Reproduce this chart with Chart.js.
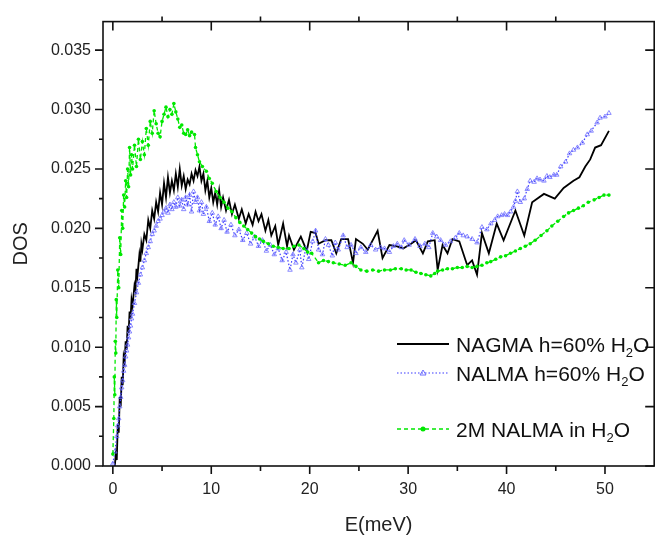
<!DOCTYPE html>
<html>
<head>
<meta charset="utf-8">
<script src="https://cdn.jsdelivr.net/npm/chart.js@4.4.1/dist/chart.umd.min.js"></script>
<style>
  html, body { margin: 0; padding: 0; background: #fff; }
  #contenedor { width: 659px; height: 535px; }
</style>
</head>
<body>
<div id="contenedor"><canvas id="grafico"></canvas></div>
<script>
// DATOS
const energiaNagma = [
  0.2, 0.3, 0.4, 0.5, 0.6, 0.7, 0.8, 0.9, 1.0, 1.1,
  1.2, 1.3, 1.4, 1.5, 1.6, 1.7, 1.8, 1.9, 2.0, 2.2,
  2.3, 2.4, 2.5, 2.7, 2.8, 2.9, 3.0, 3.2, 3.4, 3.6,
  3.8, 4.0, 4.2, 4.4, 4.6, 4.8, 5.0, 5.2, 5.4, 5.6,
  5.8, 6.0, 6.2, 6.4, 6.6, 6.8, 7.0, 7.2, 7.4, 7.6,
  7.8, 8.0, 8.2, 8.4, 8.6, 8.8, 9.0, 9.2, 9.4, 9.6,
  9.8, 10.0, 10.2, 10.4, 10.6, 10.8, 11.0, 11.2, 11.5, 11.8,
  12.1, 12.4, 12.8, 13.1, 13.5, 13.8, 14.2, 14.5, 14.8, 15.1,
  15.5, 15.8, 16.1, 16.5, 16.8, 17.3, 17.7, 17.9, 18.4, 19.1,
  19.7, 20.1, 20.6, 20.9, 21.6, 22.2, 22.7, 23.2, 23.9, 24.4,
  24.7, 25.4, 25.9, 26.9, 27.4, 28.1, 28.8, 29.5, 30.3, 30.8,
  31.5, 32.0, 32.7, 33.0, 33.5, 34.0, 34.5, 35.2, 36.0, 36.5,
  37.0, 37.5, 38.2, 39.0, 39.7, 40.9, 41.8, 42.6, 43.8, 44.9,
  45.8, 46.8, 47.4, 48.0, 48.5, 49.0, 49.6, 50.4
];
const dosNagma = [
  0.0000, 0.0010, 0.0005, 0.0035, 0.0028, 0.0058, 0.0050, 0.0075, 0.0068, 0.0092,
  0.0088, 0.0105, 0.0098, 0.0118, 0.0112, 0.0130, 0.0124, 0.0140, 0.0135, 0.0152,
  0.0148, 0.0166, 0.0160, 0.0178, 0.0172, 0.0187, 0.0182, 0.0195, 0.0190, 0.0207,
  0.0200, 0.0215, 0.0208, 0.0222, 0.0214, 0.0230, 0.0220, 0.0238, 0.0226, 0.0243,
  0.0230, 0.0240, 0.0232, 0.0246, 0.0235, 0.0250, 0.0236, 0.0244, 0.0233, 0.0241,
  0.0237, 0.0246, 0.0240, 0.0249, 0.0244, 0.0252, 0.0240, 0.0246, 0.0232, 0.0240,
  0.0226, 0.0234, 0.0222, 0.0230, 0.0220, 0.0232, 0.0218, 0.0226, 0.0215, 0.0224,
  0.0212, 0.0220, 0.0208, 0.0216, 0.0204, 0.0212, 0.0203, 0.0214, 0.0206, 0.0212,
  0.0198, 0.0207, 0.0194, 0.0202, 0.0186, 0.0204, 0.0185, 0.0194, 0.0182, 0.0193,
  0.0181, 0.0197, 0.0196, 0.0187, 0.0190, 0.0190, 0.0179, 0.0191, 0.0191, 0.0171,
  0.0191, 0.0187, 0.0182, 0.0198, 0.0175, 0.0186, 0.0185, 0.0183, 0.0187, 0.0190,
  0.0179, 0.0189, 0.0190, 0.0165, 0.0186, 0.0179, 0.0191, 0.0189, 0.0169, 0.0173,
  0.0161, 0.0196, 0.0179, 0.0204, 0.0190, 0.0215, 0.0194, 0.0222, 0.0229, 0.0225,
  0.0234, 0.0240, 0.0243, 0.0252, 0.0258, 0.0268, 0.0270, 0.0282
];

const energiaNalma = [
  0.0, 0.2, 0.4, 0.5, 0.6, 0.7, 0.8, 0.9, 1.0, 1.1,
  1.2, 1.3, 1.4, 1.5, 1.6, 1.7, 1.8, 1.9, 2.0, 2.2,
  2.4, 2.6, 2.8, 3.0, 3.2, 3.4, 3.6, 3.8, 4.0, 4.2,
  4.4, 4.6, 4.8, 5.0, 5.2, 5.4, 5.6, 5.8, 6.0, 6.2,
  6.4, 6.6, 6.8, 7.0, 7.2, 7.4, 7.6, 7.8, 8.0, 8.2,
  8.4, 8.6, 8.8, 9.0, 9.2, 9.5, 9.8, 10.1, 10.4, 10.7,
  11.0, 11.3, 11.6, 12.0, 12.4, 12.8, 13.2, 13.6, 14.0, 14.4,
  14.8, 15.2, 15.6, 16.0, 16.4, 16.8, 17.2, 17.6, 18.0, 18.3,
  18.6, 19.0, 19.2, 19.6, 19.9, 20.3, 20.6, 20.9, 21.3, 21.6,
  21.9, 22.3, 22.6, 22.9, 23.4, 23.8, 24.2, 24.7, 25.2, 25.7,
  26.2, 26.7, 27.2, 27.6, 28.1, 28.5, 28.9, 29.3, 29.6, 30.1,
  30.7, 31.2, 31.7, 32.1, 32.5, 32.9, 33.3, 33.8, 34.3, 34.8,
  35.2, 35.6, 36.0, 36.5, 37.0, 37.5, 38.0, 38.4, 38.8, 39.1,
  39.5, 39.8, 40.1, 40.4, 40.7, 40.9, 41.1, 41.4, 41.8, 42.1,
  42.4, 42.8, 43.1, 43.4, 43.8, 44.1, 44.4, 44.8, 45.1, 45.5,
  46.0, 46.4, 46.8, 47.2, 47.7, 48.2, 48.6, 49.2, 49.5, 50.0, 50.4
];
const dosNalma = [
  0.0002, 0.0012, 0.0025, 0.0034, 0.0040, 0.0050, 0.0058, 0.0066, 0.0072, 0.0080,
  0.0085, 0.0092, 0.0097, 0.0102, 0.0108, 0.0113, 0.0118, 0.0124, 0.0128, 0.0137,
  0.0146, 0.0154, 0.0161, 0.0167, 0.0173, 0.0179, 0.0184, 0.0189, 0.0195, 0.0198,
  0.0202, 0.0206, 0.0208, 0.0211, 0.0214, 0.0217, 0.0213, 0.0220, 0.0216, 0.0222,
  0.0218, 0.0226, 0.0219, 0.0224, 0.0216, 0.0226, 0.0220, 0.0228, 0.0214, 0.0231,
  0.0222, 0.0226, 0.0215, 0.0222, 0.0212, 0.0218, 0.0206, 0.0213, 0.0203, 0.0210,
  0.0200, 0.0207, 0.0197, 0.0203, 0.0194, 0.0199, 0.0190, 0.0196, 0.0187, 0.0193,
  0.0185, 0.0190, 0.0181, 0.0186, 0.0178, 0.0183, 0.0173, 0.0180, 0.0165, 0.0178,
  0.0171, 0.0182, 0.0167, 0.0183, 0.0174, 0.0189, 0.0198, 0.0182, 0.0178, 0.0191,
  0.0186, 0.0177, 0.0188, 0.0182, 0.0194, 0.0184, 0.0186, 0.0179, 0.0184, 0.0180,
  0.0186, 0.0182, 0.0184, 0.0183, 0.0180, 0.0185, 0.0187, 0.0184, 0.0190, 0.0186,
  0.0191, 0.0185, 0.0187, 0.0184, 0.0196, 0.0193, 0.0190, 0.0186, 0.0189, 0.0192,
  0.0196, 0.0194, 0.0193, 0.0191, 0.0188, 0.0201, 0.0199, 0.0204, 0.0207, 0.0210,
  0.0211, 0.0212, 0.0211, 0.0214, 0.0218, 0.0223, 0.0231, 0.0222, 0.0225, 0.0233,
  0.0240, 0.0239, 0.0242, 0.0241, 0.0240, 0.0244, 0.0243, 0.0245, 0.0245, 0.0252,
  0.0256, 0.0263, 0.0266, 0.0268, 0.0272, 0.0279, 0.0282, 0.0289, 0.0293, 0.0294, 0.0297
];

const energiaSolucion = [
  0.0, 0.1, 0.15, 0.2, 0.25, 0.3, 0.35, 0.4, 0.5, 0.6,
  0.7, 0.8, 0.9, 1.0, 1.1, 1.2, 1.3, 1.4, 1.5, 1.6,
  1.7, 1.8, 1.9, 2.0, 2.2, 2.4, 2.6, 2.8, 3.0, 3.2,
  3.4, 3.6, 3.8, 4.0, 4.2, 4.4, 4.6, 4.8, 5.0, 5.2,
  5.4, 5.6, 5.8, 6.0, 6.2, 6.4, 6.6, 6.8, 7.0, 7.2,
  7.4, 7.6, 7.8, 8.0, 8.3, 8.4, 8.6, 8.8, 9.1, 9.5,
  9.8, 10.1, 10.5, 10.9, 11.3, 11.7, 12.1, 12.5, 12.9, 13.3,
  13.7, 14.1, 14.5, 14.9, 15.3, 15.8, 16.3, 16.8, 17.3, 17.9,
  18.4, 18.9, 19.4, 19.8, 20.2, 20.9, 21.4, 21.9, 22.4, 23.0,
  23.6, 24.2, 24.7, 25.2, 25.8, 26.4, 27.0, 27.6, 28.2, 28.7,
  29.3, 29.8, 30.3, 30.8, 31.3, 31.8, 32.3, 32.7, 33.0, 33.5,
  34.0, 34.5, 35.0, 35.5, 36.0, 36.5, 37.0, 37.5, 38.0, 38.4,
  38.9, 39.4, 39.9, 40.4, 40.9, 41.4, 41.9, 42.4, 42.9, 43.5,
  44.1, 44.6, 45.2, 45.8, 46.3, 46.8, 47.3, 47.8, 48.3, 48.9, 49.4, 49.9, 50.4
];
const dosSolucion = [
  0.0010, 0.0040, 0.0075, 0.0060, 0.0105, 0.0095, 0.0140, 0.0125, 0.0165, 0.0150,
  0.0192, 0.0178, 0.0215, 0.0200, 0.0228, 0.0218, 0.0240, 0.0226, 0.0250, 0.0235,
  0.0268, 0.0245, 0.0262, 0.0250, 0.0270, 0.0252, 0.0275, 0.0258, 0.0273, 0.0262,
  0.0284, 0.0270, 0.0290, 0.0280, 0.0299, 0.0288, 0.0280, 0.0277, 0.0290, 0.0296,
  0.0302, 0.0294, 0.0300, 0.0296, 0.0305, 0.0298, 0.0292, 0.0285, 0.0287, 0.0280,
  0.0279, 0.0283, 0.0278, 0.0281, 0.0279, 0.0268, 0.0262, 0.0256, 0.0252, 0.0248,
  0.0242, 0.0238, 0.0231, 0.0226, 0.0222, 0.0217, 0.0214, 0.0209, 0.0205, 0.0202,
  0.0199, 0.0196, 0.0193, 0.0191, 0.0189, 0.0187, 0.0185, 0.0184, 0.0183, 0.0183,
  0.0185, 0.0186, 0.0183, 0.0180, 0.0179, 0.0171, 0.0173, 0.0172, 0.0171, 0.0170,
  0.0169, 0.0171, 0.0168, 0.0165, 0.0164, 0.0165, 0.0164, 0.0165, 0.0165, 0.0166,
  0.0166, 0.0165, 0.0165, 0.0163, 0.0162, 0.0161, 0.0160, 0.0162, 0.0164, 0.0165,
  0.0166, 0.0166, 0.0167, 0.0167, 0.0168, 0.0167, 0.0168, 0.0169, 0.0171, 0.0172,
  0.0174, 0.0176, 0.0177, 0.0179, 0.0181, 0.0183, 0.0185, 0.0187, 0.0190, 0.0194,
  0.0198, 0.0202, 0.0206, 0.0210, 0.0213, 0.0215, 0.0217, 0.0219, 0.0222, 0.0224, 0.0226, 0.0228, 0.0228
];

const nombres = ["NAGMA h=60% H2O", "NALMA h=60% H2O", "2M NALMA in H2O"];
const ticksX = [0, 10, 20, 30, 40, 50];
const ticksXMenores = [5, 15, 25, 35, 45];
const ticksY = [0, 0.005, 0.010, 0.015, 0.020, 0.025, 0.030, 0.035];
const ticksYMenores = [0.0025, 0.0075, 0.0125, 0.0175, 0.0225, 0.0275, 0.0325];

function puntos(xs, ys) {
  return xs.map((x, i) => ({ x: x, y: ys[i] }));
}

const FUENTE = '"Liberation Sans", Arial, Helvetica, sans-serif';

// marco, ticks espejados y leyenda con subindice
const marcoYLeyenda = {
  id: 'marcoYLeyenda',
  afterDraw(chart) {
    const { ctx, chartArea: a, scales: { x, y } } = chart;
    ctx.save();
    ctx.strokeStyle = '#111';
    ctx.lineWidth = 1.6;
    ctx.strokeRect(a.left, a.top, a.right - a.left, a.bottom - a.top);

    ctx.beginPath();
    ticksX.forEach(v => {
      const px = x.getPixelForValue(v);
      ctx.moveTo(px, a.bottom); ctx.lineTo(px, a.bottom + 8);
      ctx.moveTo(px, a.top); ctx.lineTo(px, a.top + 9);
    });
    ticksXMenores.forEach(v => {
      const px = x.getPixelForValue(v);
      ctx.moveTo(px, a.bottom); ctx.lineTo(px, a.bottom + 5);
      ctx.moveTo(px, a.top); ctx.lineTo(px, a.top - 5);
    });
    ticksY.forEach(v => {
      const py = y.getPixelForValue(v);
      ctx.moveTo(a.left - 8, py); ctx.lineTo(a.left, py);
      ctx.moveTo(a.right - 9, py); ctx.lineTo(a.right, py);
    });
    ticksYMenores.forEach(v => {
      const py = y.getPixelForValue(v);
      ctx.moveTo(a.left - 4, py); ctx.lineTo(a.left, py);
    });
    ctx.stroke();

    // leyenda
    const filas = [344, 373, 429];
    const x0 = 397, x1 = 449, xm = 423, xt = 456;
    chart.data.datasets.forEach((ds, i) => {
      const fy = filas[i];
      ctx.save();
      ctx.strokeStyle = ds.borderColor;
      ctx.lineWidth = ds.borderWidth;
      ctx.setLineDash(ds.borderDash || []);
      ctx.beginPath();
      ctx.moveTo(x0, fy); ctx.lineTo(x1, fy);
      ctx.stroke();
      ctx.restore();
      if (ds.pointStyle === 'triangle') {
        ctx.save();
        ctx.strokeStyle = ds.pointBorderColor;
        ctx.lineWidth = 1;
        ctx.beginPath();
        ctx.moveTo(xm, fy - 3); ctx.lineTo(xm + 3, fy + 2); ctx.lineTo(xm - 3, fy + 2); ctx.closePath();
        ctx.stroke();
        ctx.restore();
      } else if (ds.pointStyle === 'circle') {
        ctx.save();
        ctx.fillStyle = ds.pointBackgroundColor;
        ctx.beginPath();
        ctx.arc(xm, fy, 2.5, 0, Math.PI * 2);
        ctx.fill();
        ctx.restore();
      }
      const texto = nombres[i];
      const base = texto.slice(0, -2);
      const fin = texto.slice(-1);
      const by = fy + 7.5;
      ctx.fillStyle = '#111';
      ctx.textBaseline = 'alphabetic';
      ctx.textAlign = 'left';
      ctx.font = '21px ' + FUENTE;
      ctx.fillText(base, xt, by);
      let w = ctx.measureText(base).width;
      ctx.font = '13px ' + FUENTE;
      ctx.fillText('2', xt + w, by + 5);
      w += ctx.measureText('2').width;
      ctx.font = '21px ' + FUENTE;
      ctx.fillText(fin, xt + w, by);
    });
    ctx.restore();
  }
};

new Chart(document.getElementById('grafico'), {
  type: 'line',
  data: {
    datasets: [
      {
        label: nombres[0],
        data: puntos(energiaNagma, dosNagma),
        borderColor: '#000000',
        borderWidth: 1.8,
        pointRadius: 0,
        pointStyle: false,
        tension: 0,
        order: 3
      },
      {
        label: nombres[1],
        data: puntos(energiaNalma, dosNalma),
        borderColor: '#3a3aff',
        borderWidth: 1.2,
        borderDash: [1.5, 2],
        pointStyle: 'triangle',
        pointRadius: 2.6,
        pointBorderWidth: 0.8,
        pointBorderColor: '#6f6fff',
        pointBackgroundColor: 'rgba(255,255,255,0)',
        tension: 0,
        order: 2
      },
      {
        label: nombres[2],
        data: puntos(energiaSolucion, dosSolucion),
        borderColor: '#00e800',
        borderWidth: 1.3,
        borderDash: [4, 3],
        pointStyle: 'circle',
        pointRadius: 1.8,
        pointBorderWidth: 0,
        pointBackgroundColor: '#00e800',
        tension: 0,
        order: 1
      }
    ]
  },
  options: {
    responsive: true,
    maintainAspectRatio: false,
    animation: false,
    layout: { padding: { left: 0, top: 15, right: 1, bottom: 0 } },
    plugins: {
      legend: { display: false },
      tooltip: { enabled: false }
    },
    scales: {
      x: {
        type: 'linear',
        min: -1,
        max: 55,
        bounds: 'data',
        grid: { display: false, drawTicks: false },
        border: { display: false },
        afterBuildTicks: function(scale) {
          scale.ticks = ticksX.map(v => ({ value: v }));
        },
        afterFit: function(scale) { scale.height = 69; },
        ticks: {
          padding: 14,
          color: '#222',
          font: { family: FUENTE, size: 16 },
          callback: function(v) { return String(v); }
        },
        title: {
          display: true,
          text: 'E(meV)',
          color: '#222',
          font: { family: FUENTE, size: 20, lineHeight: 1 },
          padding: { top: 0, bottom: 0 }
        }
      },
      y: {
        type: 'linear',
        min: 0,
        max: 0.0374,
        bounds: 'data',
        grid: { display: false, drawTicks: false },
        border: { display: false },
        afterBuildTicks: function(scale) {
          scale.ticks = ticksY.map(v => ({ value: v }));
        },
        afterFit: function(scale) { scale.width = 103; },
        ticks: {
          padding: 12,
          color: '#222',
          font: { family: FUENTE, size: 16 },
          callback: function(v) { return Number(v).toFixed(3); }
        },
        title: {
          display: true,
          text: 'DOS',
          color: '#222',
          font: { family: FUENTE, size: 20, lineHeight: 1 },
          padding: { top: 11, bottom: 0 }
        }
      }
    }
  },
  plugins: [marcoYLeyenda]
});
</script>
</body>
</html>
